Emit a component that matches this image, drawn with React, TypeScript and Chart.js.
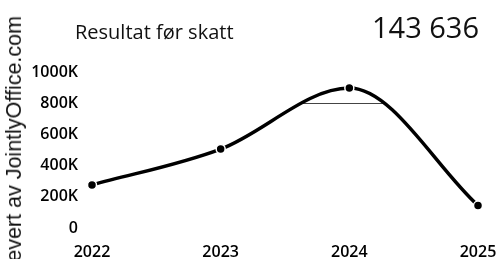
import React, { useEffect, useRef } from 'react';
import { Chart, registerables } from 'chart.js';
Chart.register(...registerables);

const years = ['2022', '2023', '2024', '2025'];
const values = [276000, 506000, 897000, 143636];
const yTickValues = [0, 200000, 400000, 600000, 800000, 1000000];
const titleText = 'Resultat før skatt';
const headline = '143 636';
const sideText = 'Levert av JointlyOffice.com';
const highlightGrid = 800000;

const W = 498;
const H = 259;

export default function App() {
  const ref = useRef<HTMLCanvasElement | null>(null);
  useEffect(() => {
    if (!ref.current) return;
    const chart = new Chart(ref.current, {
      type: 'line',
      data: {
        labels: years,
        datasets: [
          {
            data: values,
            borderColor: '#000',
            borderWidth: 3.5,
            cubicInterpolationMode: 'monotone',
            fill: 'end',
            backgroundColor: '#fff',
            pointRadius: 4.5,
            pointBackgroundColor: '#000',
            pointBorderColor: '#fff',
            pointBorderWidth: 1.5,
          },
        ],
      },
      options: {
        responsive: false,
        animation: false,
        layout: { padding: { top: 72, right: 0, left: 0, bottom: 0 } },
        plugins: { legend: { display: false }, tooltip: { enabled: false }, title: { display: false } },
        scales: {
          x: {
            grid: { display: false, drawTicks: false },
            border: { display: false },
            ticks: {
              color: '#000',
              padding: 15,
              maxRotation: 0,
              font: { family: 'Open Sans', size: 16, weight: '600' },
            },
            afterFit: (s: any) => {
              s.height = 31;
              s.paddingRight = 20;
              s.paddingLeft = 0;
            },
          },
          y: {
            min: 0,
            max: 1000000,
            border: { display: false },
            grid: {
              drawTicks: false,
              lineWidth: 1,
              color: (c: any) => (c.tick && c.tick.value === highlightGrid ? '#444' : 'rgba(0,0,0,0)'),
            },
            afterBuildTicks: (s: any) => { s.ticks = yTickValues.map((v) => ({ value: v })); },
            ticks: {
              color: '#000',
              padding: 14,
              font: { family: 'Open Sans', size: 16, weight: '600' },
              callback: (v: any) => (Number(v) === 0 ? '0' : Number(v) / 1000 + 'K'),
            },
            afterFit: (s: any) => {
              s.width = 92;
              s.paddingTop = 0;
              s.paddingBottom = 0;
            },
          },
        },
      },
    });
    return () => chart.destroy();
  }, []);

  return (
    <div style={{ position: 'fixed', left: 0, top: 0, width: W, height: H, overflow: 'hidden', background: '#fff' }}>
      <canvas ref={ref} width={W} height={H} style={{ position: 'absolute', left: 0, top: 0, width: W, height: H }} />
      <div
        style={{
          position: 'absolute',
          left: 75,
          top: 22,
          fontFamily: 'Open Sans',
          fontSize: 20,
          lineHeight: '20px',
          color: '#111',
          whiteSpace: 'nowrap',
        }}
      >
        {titleText}
      </div>
      <div
        style={{
          position: 'absolute',
          right: W - 479,
          top: 12,
          fontFamily: 'Open Sans',
          fontSize: 29,
          lineHeight: '29px',
          color: '#111',
          whiteSpace: 'nowrap',
        }}
      >
        {headline}
      </div>
      <div
        style={{
          position: 'absolute',
          left: 3,
          top: 16,
          writingMode: 'vertical-rl',
          transform: 'rotate(180deg)',
          fontFamily: 'Liberation Sans',
          fontSize: 21.5,
          lineHeight: '22px',
          color: '#111',
          whiteSpace: 'nowrap',
        }}
      >
        {sideText}
      </div>
    </div>
  );
}
